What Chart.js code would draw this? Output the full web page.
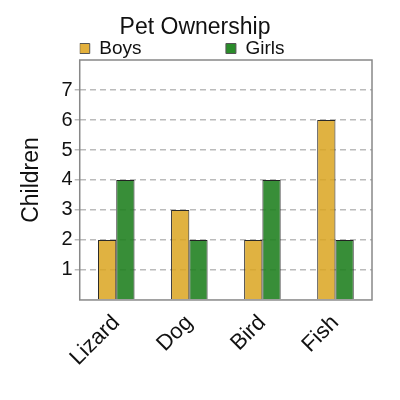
<!DOCTYPE html>
<html>
<head>
<meta charset="utf-8">
<script src="https://cdn.jsdelivr.net/npm/chart.js@4"></script>
<style>
  html,body{margin:0;padding:0;background:#fff;}
  #c{display:block;}
</style>
</head>
<body>
<canvas id="c" width="400" height="400"></canvas>
<script>
const categories = ['Lizard', 'Dog', 'Bird', 'Fish'];
const boys = [2, 3, 2, 6];
const girls = [4, 2, 4, 2];
const yTicks = [1, 2, 3, 4, 5, 6, 7];

// box around the plot area
const frame = {
  id: 'frame',
  afterLayout(chart){
    // legend starts over the plot's left edge
    const lg = chart.legend;
    const w = lg.right - lg.left;
    lg.left = chart.chartArea.left;
    lg.right = lg.left + w;
  },
  afterDraw(chart){
    const a = chart.chartArea, ctx = chart.ctx;
    ctx.save();
    ctx.strokeStyle = '#888';
    ctx.lineWidth = 1.5;
    ctx.strokeRect(a.left, a.top, a.right - a.left, a.bottom - a.top);
    ctx.restore();
  }
};

const pad = (s, n) => s + ' '.repeat(n);

new Chart(document.getElementById('c').getContext('2d'), {
  type: 'bar',
  data: {
    labels: categories,
    datasets: [
      {label:'Boys', data:boys, backgroundColor:'rgba(218,165,32,0.85)', borderColor:'#2a2a2a', borderWidth:1},
      {label:'Girls', data:girls, backgroundColor:'rgba(34,130,34,0.9)', borderColor:'#222', borderWidth:1}
    ]
  },
  options: {
    responsive:false,
    animation:false,
    devicePixelRatio:1,
    layout:{padding:{left:18, right:28, bottom:27, top:0}},
    datasets:{bar:{categoryPercentage:0.5, barPercentage:1.0}},
    plugins:{
      title:{display:true, text:'Pet Ownership', color:'#111',
        font:{family:'Liberation Sans', size:23, weight:'normal', lineHeight:1.0}, padding:{top:16, bottom:0}},
      legend:{
        display:true, align:'start', maxHeight:21,
        labels:{color:'#111', font:{family:'Liberation Sans', size:19}, boxWidth:10, boxHeight:10, padding:0,
          generateLabels(chart){
            const items = Chart.defaults.plugins.legend.labels.generateLabels(chart);
            items[0].text = pad(items[0].text, 16);
            items[0].fillStyle = '#e3b03c';
            items[1].fillStyle = '#2a8c2a';
            items.forEach(it => { it.lineWidth = 1; it.strokeStyle = '#555'; });
            return items;
          }}
      },
      tooltip:{enabled:false}
    },
    scales:{
      x:{
        grid:{display:false},
        border:{display:false},
        ticks:{color:'#111', font:{family:'Liberation Sans', size:22}, minRotation:45, maxRotation:45, padding:2}
      },
      y:{
        min:0, max:8,
        afterBuildTicks(axis){ axis.ticks = [0, ...yTicks, 8].map(v => ({value:v})); },
        ticks:{color:'#111', font:{family:'Liberation Sans', size:20}, padding:2,
          callback:(v)=> yTicks.includes(v) ? String(v) : ''},
        grid:{
          color:(c)=> yTicks.includes(c.tick.value) ? '#bbb' : 'rgba(0,0,0,0)',
          lineWidth:1.5, tickLength:5
        },
        border:{display:false, dash:[6,4]},
        title:{display:true, text:'Children', color:'#111', font:{family:'Liberation Sans', size:23}, padding:{top:0, bottom:14}}
      }
    }
  },
  plugins:[frame]
});
</script>
</body>
</html>
